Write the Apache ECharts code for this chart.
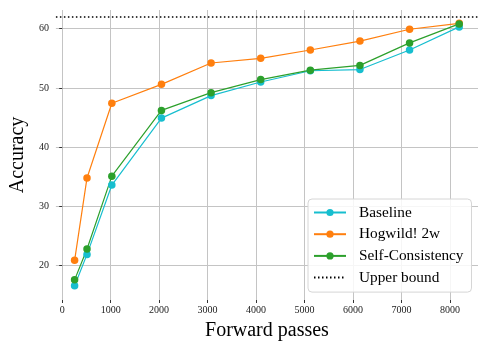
<!DOCTYPE html>
<html>
<head>
<meta charset="utf-8">
<script src="https://cdn.jsdelivr.net/npm/echarts@6/dist/echarts.min.js"></script>
<style>
  html, body { margin: 0; padding: 0; background: #fff; }
  #chart { width: 488px; height: 349px; }
</style>
</head>
<body>
<div id="chart"></div>
<script>
// forward passes (x)
const passes = [256, 512, 1024, 2048, 3072, 4096, 5120, 6144, 7168, 8192];
// accuracy per method
const baseline = [16.6, 21.9, 33.6, 44.9, 48.7, 51.0, 52.9, 53.1, 56.4, 60.3];
const hogwild = [20.9, 34.8, 47.4, 50.6, 54.2, 55.0, 56.4, 57.9, 59.9, 60.9];
const selfConsistency = [17.6, 22.8, 35.1, 46.2, 49.2, 51.4, 53.0, 53.8, 57.6, 60.8];
const upperBound = 62;
// tick labels
const xTicks = [0, 1000, 2000, 3000, 4000, 5000, 6000, 7000, 8000];
const yTicks = [20, 30, 40, 50, 60];

const serif = "'Liberation Serif', 'DejaVu Serif', serif";

function pairs(ys) {
  return passes.map((x, i) => [x, ys[i]]);
}

function lineSeries(name, color, ys) {
  return {
    name: name,
    type: "line",
    data: pairs(ys),
    symbol: "circle",
    symbolSize: 7.5,
    itemStyle: { color: color },
    lineStyle: { color: color, width: 1.2 },
    emphasis: { disabled: true },
  };
}

var chart = echarts.init(document.getElementById("chart"));
chart.setOption({
  animation: false,
  backgroundColor: "#fff",
  grid: { left: 50, right: 10, top: 10, bottom: 49 },
  xAxis: {
    type: "value",
    min: -130,
    max: 8580,
    name: "Forward passes",
    nameLocation: "middle",
    nameGap: 21,
    nameTextStyle: { fontFamily: serif, fontSize: 20, color: "#000" },
    axisLine: { show: false },
    axisTick: { show: true, length: 3, customValues: xTicks, lineStyle: { color: "#333" } },
    axisLabel: {
      customValues: xTicks,
      formatter: (v) => String(v),
      fontFamily: serif,
      fontSize: 10,
      color: "#222",
      margin: 5,
    },
    splitLine: { show: true, lineStyle: { color: "#c4c4c4", width: 1 } },
  },
  yAxis: {
    type: "value",
    min: 14.2,
    max: 63.15,
    name: "Accuracy",
    nameLocation: "middle",
    nameGap: 23,
    nameTextStyle: { fontFamily: serif, fontSize: 20, color: "#000" },
    axisLine: { show: false },
    axisTick: { show: true, length: 3, customValues: yTicks, lineStyle: { color: "#333" } },
    axisLabel: { customValues: yTicks, fontFamily: serif, fontSize: 10, color: "#222", margin: 7 },
    splitLine: { show: true, lineStyle: { color: "#c4c4c4", width: 1 } },
  },
  legend: {
    orient: "vertical",
    left: 308,
    top: 199,
    padding: [6, 8, 7, 5],
    itemWidth: 32,
    itemHeight: 9,
    itemGap: 6.7,
    backgroundColor: "rgba(255,255,255,0.85)",
    borderColor: "#d6d6d6",
    borderWidth: 1,
    borderRadius: 4,
    textStyle: { fontFamily: serif, fontSize: 15.3, color: "#000", padding: [0, 0, 0, 8] },
    data: [
      "Baseline",
      "Hogwild! 2w",
      "Self-Consistency",
      { name: "Upper bound", itemStyle: { opacity: 0 } },
    ],
  },
  series: [
    lineSeries("Baseline", "#17becf", baseline),
    lineSeries("Hogwild! 2w", "#ff7f0e", hogwild),
    lineSeries("Self-Consistency", "#2ca02c", selfConsistency),
    {
      name: "Upper bound",
      type: "line",
      data: [],
      symbol: "none",
      itemStyle: { color: "#000" },
      lineStyle: { color: "#000", width: 1.5, type: [1.5, 2.5] },
      markLine: {
        silent: true,
        symbol: ["none", "none"],
        label: { show: false },
        lineStyle: { color: "#000", width: 1.5, type: [1.5, 2.5] },
        data: [{ yAxis: upperBound }],
      },
    },
  ],
});
</script>
</body>
</html>
